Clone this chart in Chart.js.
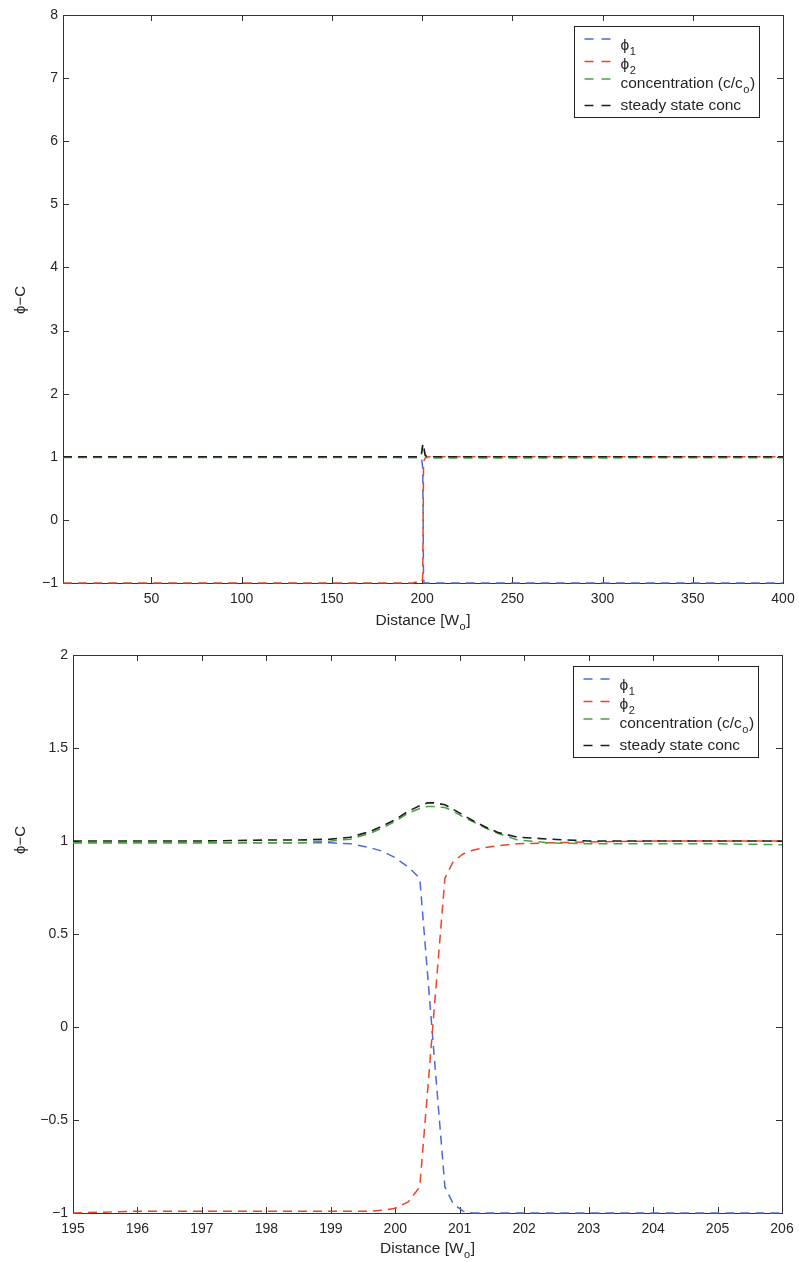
<!DOCTYPE html>
<html>
<head>
<meta charset="utf-8">
<script src="https://cdn.jsdelivr.net/npm/chart.js@4.4.0/dist/chart.umd.min.js"></script>
<style>
  body { margin: 0; background: #fff; }
  canvas { display: block; }
</style>
</head>
<body>
<canvas id="full" width="799" height="630"></canvas>
<canvas id="zoom" width="799" height="632"></canvas>
<script>
// samples across the interface, distance in W_o
const xFine  = [195, 196, 197, 198, 198.5, 199, 199.3, 199.6, 199.8, 200, 200.2, 200.38, 200.5, 200.6, 200.77, 200.9, 201.05, 201.2, 201.4, 201.6, 201.9, 202.4, 203, 204, 205, 206];
const phi1   = [0.99, 0.99, 0.99, 0.99, 0.99, 0.99, 0.985, 0.965, 0.945, 0.91, 0.86, 0.80, 0.29, -0.14, -0.86, -0.95, -0.99, -1, -1, -1, -1, -1, -1, -1, -1, -1];
const phi2   = [-1, -0.99, -0.99, -0.99, -0.99, -0.99, -0.99, -0.99, -0.985, -0.975, -0.94, -0.86, -0.35, 0.08, 0.80, 0.89, 0.93, 0.95, 0.965, 0.975, 0.985, 0.99, 0.995, 1, 1, 1];
const conc   = [0.99, 0.99, 0.99, 0.99, 0.99, 1.0, 1.01, 1.04, 1.07, 1.105, 1.15, 1.175, 1.185, 1.185, 1.18, 1.16, 1.13, 1.105, 1.07, 1.04, 1.005, 0.99, 0.985, 0.985, 0.985, 0.98];
const steady = [1.0, 1.0, 1.0, 1.005, 1.005, 1.01, 1.02, 1.05, 1.08, 1.115, 1.16, 1.19, 1.205, 1.205, 1.195, 1.17, 1.14, 1.11, 1.075, 1.045, 1.02, 1.01, 1.0, 1.0, 1.0, 1.0];

// values at the two ends of the whole domain
const xEnds      = [1, 400];
const phi1Ends   = [1, -1];
const phi2Ends   = [-1, 1];
const concEnds   = [0.99, 0.985];
const steadyEnds = [1, 1];

const xTicksFull = [50, 100, 150, 200, 250, 300, 350, 400];
const yTicksFull = [-1, 0, 1, 2, 3, 4, 5, 6, 7, 8];
const xTicksZoom = [195, 196, 197, 198, 199, 200, 201, 202, 203, 204, 205, 206];
const yTicksZoom = [-1, -0.5, 0, 0.5, 1, 1.5, 2];

const FONT = '"Liberation Sans", Arial, Helvetica, sans-serif';
const INK = '#262626';

const seriesStyle = [
  { label: 'phi1',   color: '#4f6ad8', width: 1.5, order: 4, main: 'ϕ', sub: '1', tail: '' },
  { label: 'phi2',   color: '#ec4524', width: 1.5, order: 3, main: 'ϕ', sub: '2', tail: '' },
  { label: 'conc',   color: '#4aa443', width: 1.5, order: 2, main: 'concentration (c/c', sub: 'o', tail: ')' },
  { label: 'steady', color: '#1e1e1e', width: 1.6, order: 1, main: 'steady state conc', sub: '', tail: '' }
];

function pts(xs, ys) {
  return xs.map((x, i) => ({ x: x, y: ys[i] }));
}

function withEnds(ys, ends) {
  return [{ x: xEnds[0], y: ends[0] }, ...pts(xFine, ys), { x: xEnds[1], y: ends[1] }];
}

function datasets(full) {
  const data = full
    ? [withEnds(phi1, phi1Ends), withEnds(phi2, phi2Ends), withEnds(conc, concEnds), withEnds(steady, steadyEnds)]
    : [pts(xFine, phi1), pts(xFine, phi2), pts(xFine, conc), pts(xFine, steady)];
  return seriesStyle.map((s, i) => ({
    label: s.label,
    data: data[i],
    borderColor: s.color,
    borderWidth: s.width,
    borderDash: [9, 6],
    pointRadius: 0,
    tension: 0,
    fill: false,
    order: s.order,
    clip: 8
  }));
}

function minusFmt(v) {
  return v < 0 ? '\u2212' + Math.abs(v) : String(v);
}

// box round the axes with inward ticks on all four sides
const frame = {
  id: 'frame',
  beforeDatasetsDraw(chart) {
    const { ctx, chartArea: a, scales: { x, y } } = chart;
    ctx.save();
    ctx.strokeStyle = '#333';
    ctx.lineWidth = 1;
    ctx.strokeRect(Math.round(a.left) + 0.5, Math.round(a.top) + 0.5,
      Math.round(a.right - a.left), Math.round(a.bottom - a.top));
    ctx.beginPath();
    x.ticks.forEach(t => {
      const px = Math.round(x.getPixelForValue(t.value)) + 0.5;
      ctx.moveTo(px, a.bottom); ctx.lineTo(px, a.bottom - 6);
      ctx.moveTo(px, a.top); ctx.lineTo(px, a.top + 6);
    });
    y.ticks.forEach(t => {
      const py = Math.round(y.getPixelForValue(t.value)) + 0.5;
      ctx.moveTo(a.left, py); ctx.lineTo(a.left + 6, py);
      ctx.moveTo(a.right, py); ctx.lineTo(a.right - 6, py);
    });
    ctx.stroke();
    ctx.restore();
  }
};

// text with a lowered subscript part, returns the end x
function subText(ctx, x, y, size, main, sub, tail) {
  ctx.font = size + 'px ' + FONT;
  ctx.fillText(main, x, y);
  x += ctx.measureText(main).width;
  if (sub) {
    ctx.font = Math.round(size * 0.7) + 'px ' + FONT;
    ctx.fillText(sub, x + 0.5, y + 5);
    x += ctx.measureText(sub).width + 1;
  }
  if (tail) {
    ctx.font = size + 'px ' + FONT;
    ctx.fillText(tail, x, y);
    x += ctx.measureText(tail).width;
  }
  return x;
}

function subWidth(ctx, size, main, sub, tail) {
  ctx.font = size + 'px ' + FONT;
  let w = ctx.measureText(main + tail).width;
  ctx.font = Math.round(size * 0.7) + 'px ' + FONT;
  return w + (sub ? ctx.measureText(sub).width + 1 : 0);
}

// axis titles and legend box
const labels = {
  id: 'labels',
  afterDraw(chart, args, opts) {
    const { ctx, chartArea: a } = chart;
    ctx.save();
    ctx.fillStyle = INK;
    ctx.textBaseline = 'alphabetic';
    ctx.textAlign = 'left';

    // x title
    const w = subWidth(ctx, 15.5, 'Distance [W', 'o', ']');
    subText(ctx, (a.left + a.right) / 2 - w / 2, a.bottom + opts.xTitleGap, 15.5, 'Distance [W', 'o', ']');

    // y title
    ctx.save();
    ctx.translate(21, opts.yTitleY);
    ctx.rotate(-Math.PI / 2);
    ctx.font = '15px ' + FONT;
    ctx.textAlign = 'center';
    ctx.textBaseline = 'middle';
    ctx.fillText('ϕ\u2212C', 0, 0);
    ctx.restore();

    // legend
    const bw = 185, bh = 91;
    const bx = Math.round(a.right - 24 - bw) + 0.5;
    const by = Math.round(a.top + 11) + 0.5;
    ctx.fillStyle = '#fff';
    ctx.fillRect(bx, by, bw, bh);
    ctx.strokeStyle = '#222';
    ctx.lineWidth = 1;
    ctx.strokeRect(bx, by, bw, bh);
    const lineY = [12.5, 35, 52.5, 79];
    const textY = [23.5, 42.5, 61, 83.5];
    seriesStyle.forEach((s, i) => {
      ctx.strokeStyle = s.color;
      ctx.lineWidth = s.width;
      ctx.setLineDash([9, 8]);
      ctx.beginPath();
      ctx.moveTo(bx + 10, by + lineY[i]);
      ctx.lineTo(bx + 36, by + lineY[i]);
      ctx.stroke();
      ctx.setLineDash([]);
      ctx.fillStyle = INK;
      subText(ctx, bx + 46, by + textY[i], 15.5, s.main, s.sub, s.tail);
    });
    ctx.restore();
  }
};

function makeChart(id, full) {
  const xTicks = full ? xTicksFull : xTicksZoom;
  const yTicks = full ? yTicksFull : yTicksZoom;
  return new Chart(document.getElementById(id), {
    type: 'line',
    data: { datasets: datasets(full) },
    options: {
      responsive: false,
      animation: false,
      events: [],
      layout: { padding: full ? { top: 15, right: 16, left: 0, bottom: 0 } : { top: 25, right: 17, left: 0, bottom: 0 } },
      scales: {
        x: {
          type: 'linear',
          min: full ? 1 : 195,
          max: full ? 400 : 206,
          afterBuildTicks: s => { s.ticks = xTicks.map(v => ({ value: v })); },
          afterFit: s => {
            s.height = full ? 47 : 49;
            s.paddingLeft = 0;
            s.paddingRight = 0;
          },
          grid: { display: false, drawTicks: false },
          border: { display: false },
          ticks: { autoSkip: false, maxRotation: 0, padding: 8, color: INK, font: { family: FONT, size: 14 } }
        },
        y: {
          type: 'linear',
          min: -1,
          max: full ? 8 : 2,
          afterBuildTicks: s => { s.ticks = yTicks.map(v => ({ value: v })); },
          afterFit: s => {
            s.width = full ? 63 : 73;
            s.paddingTop = 0;
            s.paddingBottom = 0;
          },
          grid: { display: false, drawTicks: false },
          border: { display: false },
          ticks: { autoSkip: false, padding: 5, color: INK, font: { family: FONT, size: 14 }, callback: minusFmt }
        }
      },
      plugins: {
        legend: { display: false },
        tooltip: { enabled: false },
        labels: full ? { xTitleGap: 42, yTitleY: 300 } : { xTitleGap: 40, yTitleY: 210 }
      }
    },
    plugins: [frame, labels]
  });
}

makeChart('full', true);
makeChart('zoom', false);
</script>
</body>
</html>
